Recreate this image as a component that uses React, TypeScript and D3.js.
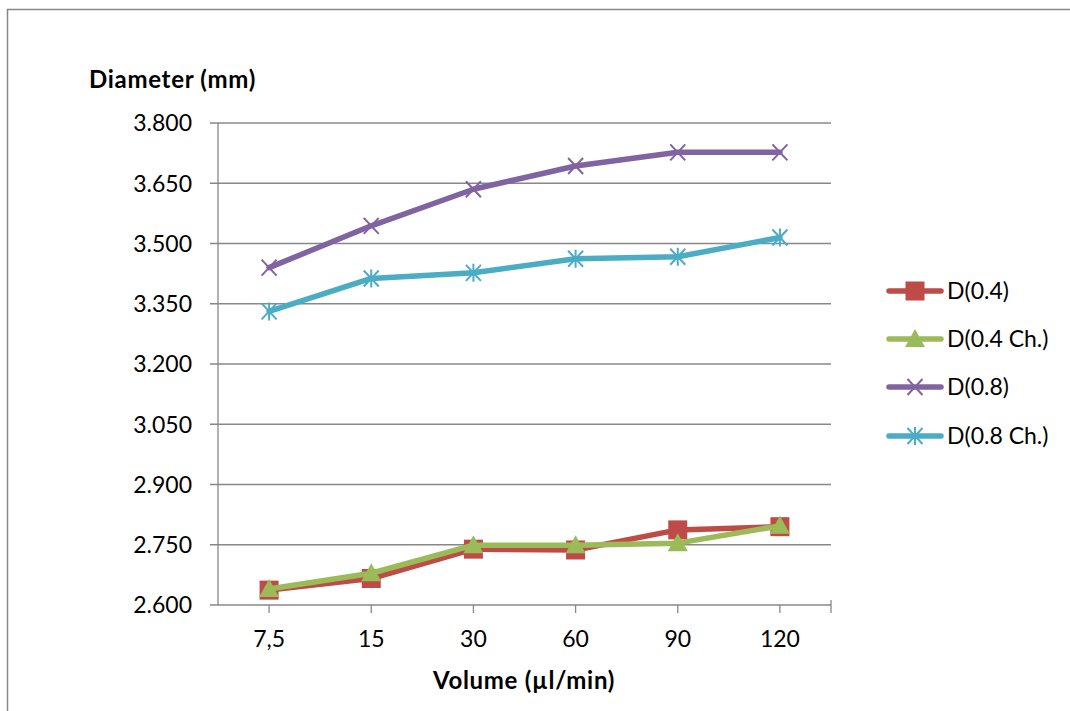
import React from 'react'
import * as d3 from 'd3'

const categories = ['7,5', '15', '30', '60', '90', '120']
const yTicks = [2.6, 2.75, 2.9, 3.05, 3.2, 3.35, 3.5, 3.65, 3.8]

const d04 = [2.637, 2.666, 2.739, 2.737, 2.787, 2.795]
const d04ch = [2.640, 2.679, 2.749, 2.749, 2.754, 2.797]
const d08 = [3.440, 3.544, 3.635, 3.693, 3.727, 3.727]
const d08ch = [3.331, 3.413, 3.427, 3.462, 3.467, 3.515]

const seriesNames = ['D(0.4)', 'D(0.4 Ch.)', 'D(0.8)', 'D(0.8 Ch.)']
const seriesColors = ['#BE4B48', '#9BBB59', '#8064A2', '#4BACC6']
const seriesMarkers = ['square', 'triangle', 'x', 'star']

const FONT = 'Lato, "Liberation Sans", sans-serif'

function Marker({ type, x, y, color }: { type: string; x: number; y: number; color: string }) {
  if (type === 'square') {
    return <rect x={x - 9.5} y={y - 9.5} width={19} height={19} fill={color} />
  }
  if (type === 'triangle') {
    return <path d={`M${x},${y - 10}L${x + 10},${y + 8}L${x - 10},${y + 8}Z`} fill={color} />
  }
  if (type === 'x') {
    return (
      <path d={`M${x - 7.5},${y - 8}L${x + 7.5},${y + 8}M${x + 7.5},${y - 8}L${x - 7.5},${y + 8}`}
        stroke={color} strokeWidth={2} fill="none" />
    )
  }
  // asterisk
  return (
    <path d={`M${x - 7.5},${y - 8}L${x + 7.5},${y + 8}M${x + 7.5},${y - 8}L${x - 7.5},${y + 8}M${x},${y - 9}L${x},${y + 9}`}
      stroke={color} strokeWidth={2} fill="none" />
  )
}

export default function App() {
  const width = 1070, height = 711
  const left = 218, right = 831, top = 123, bottom = 605

  const x = d3.scaleBand().domain(categories).range([left, right]).padding(0)
  const cx = (c: string) => (x(c) as number) + x.bandwidth() / 2
  const y = d3.scaleLinear().domain([2.6, 3.8]).range([bottom, top])

  const data = [d04, d04ch, d08, d08ch]
  const line = d3.line<number>()
    .x((_, i) => cx(categories[i]))
    .y(d => y(d))

  const legendY = [291, 339, 387, 436]

  return (
    <svg width={width} height={height} style={{ position: 'absolute', left: 0, top: 0 }}>
      <rect x={0} y={0} width={width} height={height} fill="#fff" />
      <path d={`M7.5,${height + 5}V9.5H${width + 5}`} fill="none" stroke="#888" strokeWidth={1.5} />

      {/* gridlines */}
      {yTicks.map(t => (
        <line key={t} x1={left - 8} x2={right} y1={y(t)} y2={y(t)} stroke="#888" strokeWidth={1.3} />
      ))}
      {/* y axis */}
      <line x1={left} x2={left} y1={top} y2={bottom} stroke="#888" strokeWidth={1.3} />
      {yTicks.map(t => (
        <text key={t} x={192} y={y(t)} dy="0.36em" textAnchor="end" fontFamily={FONT} fontSize={23} fill="#000">
          {d3.format('.3f')(t)}
        </text>
      ))}
      {/* x axis ticks */}
      {categories.map(c => (
        <line key={c} x1={cx(c)} x2={cx(c)} y1={bottom} y2={bottom + 8} stroke="#888" strokeWidth={1.3} />
      ))}
      <line x1={right} x2={right} y1={bottom - 5} y2={bottom + 8} stroke="#888" strokeWidth={1.3} />
      {categories.map(c => (
        <text key={c} x={cx(c)} y={647} textAnchor="middle" fontFamily={FONT} fontSize={23} fill="#000">{c}</text>
      ))}

      {/* series */}
      {data.map((s, si) => (
        <g key={si}>
          <path d={line(s) || ''} fill="none" stroke={seriesColors[si]} strokeWidth={5.5}
            strokeLinejoin="round" strokeLinecap="round" />
          {s.map((v, i) => (
            <Marker key={i} type={seriesMarkers[si]} x={cx(categories[i])} y={y(v)} color={seriesColors[si]} />
          ))}
        </g>
      ))}

      {/* titles */}
      <text x={89} y={88} fontFamily={FONT} fontSize={24} fontWeight="bold" letterSpacing={0.7} fill="#000">Diameter (mm)</text>
      <text x={524} y={689} textAnchor="middle" fontFamily={FONT} fontSize={24} fontWeight="bold" letterSpacing={0.7} fill="#000">Volume (µl/min)</text>

      {/* legend */}
      {seriesNames.map((n, i) => (
        <g key={n}>
          <line x1={889} x2={941} y1={legendY[i]} y2={legendY[i]} stroke={seriesColors[i]} strokeWidth={5.5} strokeLinecap="round" />
          <Marker type={seriesMarkers[i]} x={915} y={legendY[i]} color={seriesColors[i]} />
          <text x={947} y={legendY[i]} dy="0.36em" fontFamily={FONT} fontSize={23} fill="#000">{n}</text>
        </g>
      ))}
    </svg>
  )
}
